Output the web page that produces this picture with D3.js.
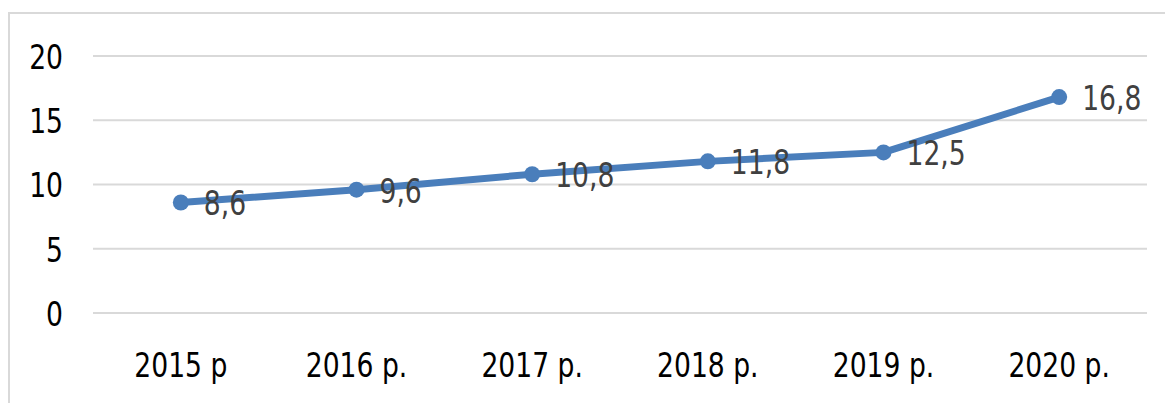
<!DOCTYPE html>
<html>
<head>
<meta charset="utf-8">
<script src="https://cdn.jsdelivr.net/npm/d3@7"></script>
<style>
  body { margin: 0; background: #fff; }
  text { font-family: "Liberation Sans Narrow", "DejaVu Sans Condensed", sans-serif; }
</style>
</head>
<body>
<svg width="1165" height="403"></svg>
<script>
// chart data
var years = ["2015 р", "2016 р.", "2017 р.", "2018 р.", "2019 р.", "2020 р."];
var values = [8.6, 9.6, 10.8, 11.8, 12.5, 16.8];
var yTicks = [0, 5, 10, 15, 20];

var squeeze = 0.87; // narrow the glyphs a bit, the original font is condensed

var svg = d3.select("svg");

// outer frame (chart area border)
svg.append("rect")
  .attr("x", 9).attr("y", 13)
  .attr("width", 1180).attr("height", 420)
  .attr("fill", "none")
  .attr("stroke", "#d9d9d9")
  .attr("stroke-width", 2);

var x = d3.scaleBand().domain(years).range([93, 1147]);
var y = d3.scaleLinear().domain([0, 20]).range([313, 56]);

// gridlines
svg.append("g")
  .selectAll("line")
  .data(yTicks)
  .enter().append("line")
  .attr("x1", 93).attr("x2", 1147)
  .attr("y1", function(d) { return y(d); })
  .attr("y2", function(d) { return y(d); })
  .attr("stroke", "#d9d9d9")
  .attr("stroke-width", 2);

// y axis labels
var yAxis = svg.append("g")
  .attr("transform", "translate(63,0)")
  .call(d3.axisLeft(y).tickValues(yTicks).tickSize(0).tickPadding(0));
yAxis.select(".domain").remove();
yAxis.selectAll("text")
  .attr("font-family", null)
  .attr("font-size", 34)
  .attr("fill", "#000")
  .attr("dy", "0.36em")
  .attr("transform", "scale(" + squeeze + ",1)");

// x axis labels
var xAxis = svg.append("g")
  .attr("transform", "translate(0,313)")
  .call(d3.axisBottom(x).tickSize(0).tickPadding(40));
xAxis.select(".domain").remove();
xAxis.selectAll("text")
  .attr("font-family", null)
  .attr("font-size", 34)
  .attr("fill", "#000")
  .attr("dy", "0.71em")
  .attr("transform", "scale(" + squeeze + ",1)");

var cx = function(d, i) { return x(years[i]) + x.bandwidth() / 2; };

var line = d3.line()
  .x(cx)
  .y(function(d) { return y(d); });

svg.append("path")
  .datum(values)
  .attr("fill", "none")
  .attr("stroke", "#4a7ebb")
  .attr("stroke-width", 7)
  .attr("stroke-linejoin", "round")
  .attr("stroke-linecap", "round")
  .attr("d", line);

svg.append("g")
  .selectAll("circle")
  .data(values)
  .enter().append("circle")
  .attr("cx", cx)
  .attr("cy", function(d) { return y(d); })
  .attr("r", 8)
  .attr("fill", "#4a7ebb");

// data labels
svg.append("g")
  .selectAll("text")
  .data(values)
  .enter().append("text")
  .attr("transform", function(d, i) {
    return "translate(" + (cx(d, i) + 23) + "," + (y(d) + 13) + ") scale(" + squeeze + ",1)";
  })
  .attr("font-size", 34)
  .attr("fill", "#404040")
  .text(function(d) { return String(d).replace(".", ","); });
</script>
</body>
</html>
